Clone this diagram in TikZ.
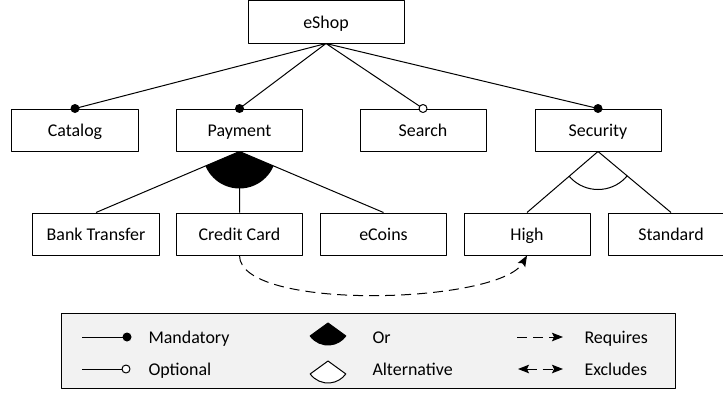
\documentclass[tikz,border=0pt]{standalone}
\usepackage{fontspec}
\setmainfont{Carlito}
\usetikzlibrary{arrows.meta}
\definecolor{legendgray}{HTML}{F2F2F2}
\tikzset{
	feature/.style={draw, minimum width=126bp, minimum height=42bp, inner sep=0pt, text height=12bp, text depth=0pt},
	legtext/.style={anchor=west, inner sep=0pt, text height=12bp, text depth=0pt},
	reqline/.style={dash pattern=on 10bp off 6bp},
}
\begin{document}
\begin{tikzpicture}[x=1bp, y=1bp, line width=1bp, font=\fontsize{18}{22}\selectfont, line join=round, >={Stealth[length=11bp,width=8.5bp,inset=2bp]}]
			\useasboundingbox (0,0) rectangle (723,392);
			\node[feature, minimum width=156bp] (eshop) at (326,370) {eShop};
			\node[feature] (catalog) at (75,262) {Catalog};
			\node[feature] (payment) at (239.5,262) {Payment};
			\node[feature] (search) at (423,262) {Search};
			\node[feature] (security) at (598,262) {Security};
			\node[feature] (bank) at (96,158) {Bank Transfer};
			\node[feature] (ccard) at (239.5,158) {Credit Card};
			\node[feature] (ecoins) at (383.5,158) {eCoins};
			\node[feature] (high) at (527,158) {High};
			\node[feature] (standard) at (671,158) {Standard};
			\draw (eshop.south)--(catalog.north) (eshop.south)--(payment.north)
			(eshop.south)--(search.north) (eshop.south)--(security.north);
			\draw (payment.south)--(bank.north) (payment.south)--(ccard.north) (payment.south)--(ecoins.north);
			\draw (security.south)--(high.north) (security.south)--(standard.north);
			\fill (catalog.north) circle(4.5) (payment.north) circle(4.5) (security.north) circle(4.5);
			\filldraw[fill=white] (search.north) circle(4);
			% or group
			\begin{scope}
				\clip (payment.south)--(bank.north)--(ecoins.north)--cycle;
				\fill (payment.south) circle(37);
			\end{scope}
			% alternative group
			\begin{scope}
				\clip (security.south)--(high.north)--(standard.north)--cycle;
				\draw (security.south) circle(38);
			\end{scope}
			\draw[->, reqline] (ccard.south) to[out=-90, in=-120, looseness=0.5] (high.south);
			% legend
			\draw[fill=legendgray] (61,4) rectangle (675,79);
			\coordinate (mand) at (82,55);
			\coordinate (mandend) at (127,55);
			\coordinate (opt) at (82,23);
			\coordinate (optend) at (126,23);
			\coordinate (orsym) at (328,69);
			\coordinate (altsym) at (328,31);
			\coordinate (req) at (517,55);
			\coordinate (reqend) at (563,55);
			\coordinate (exc) at (518,23);
			\coordinate (excend) at (563,23);
			\draw (mand)--(mandend) (opt)--(optend);
			\fill (mandend) circle(4.5);
			\filldraw[fill=white] (optend) circle(4);
			\filldraw (orsym)--++(-144:22) arc[start angle=-144, end angle=-36, radius=22]--cycle;
			\filldraw[fill=white] (altsym)--++(-144:22) arc[start angle=-144, end angle=-36, radius=22]--cycle;
			\draw[->, reqline] (req)--(reqend);
			\draw[<->, reqline] (exc)--(excend);
			\node[legtext] (mandtext) at (148,55) {Mandatory};
			\node[legtext] (opttext) at (148,23) {Optional};
			\node[legtext] (ortext) at (372,55) {Or};
			\node[legtext] (alttext) at (372,23) {Alternative};
			\node[legtext] (reqtext) at (584,55) {Requires};
			\node[legtext] (exctext) at (584,23) {Excludes};
		\end{tikzpicture}
\end{document}
